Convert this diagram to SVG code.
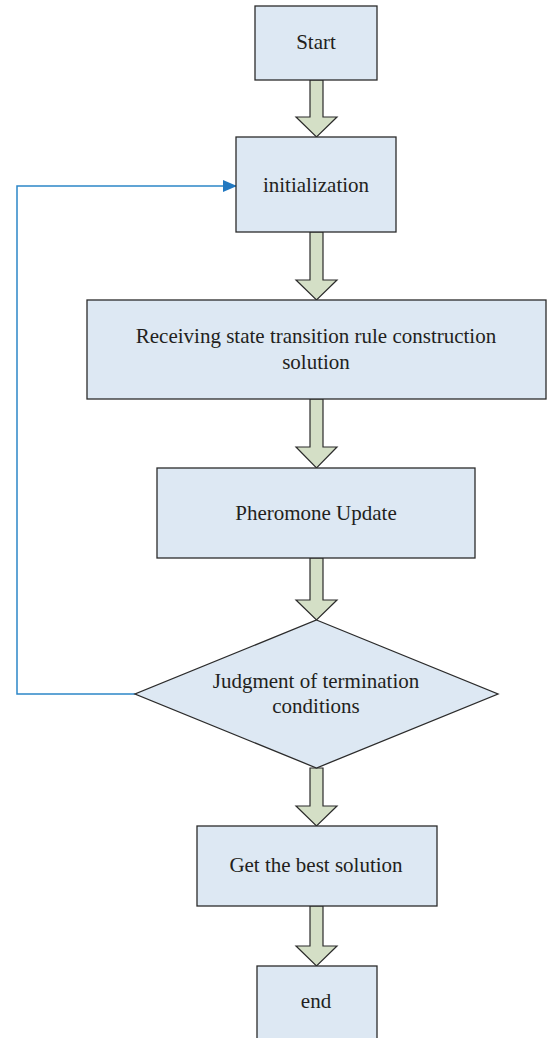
<svg xmlns="http://www.w3.org/2000/svg" width="548" height="1038" viewBox="0 0 548 1038">
<style>
.box{fill:#dde8f3;stroke:#2b2b2b;stroke-width:1.3}
.arr{fill:#d4dfc6;stroke:#2b2b2b;stroke-width:1.2;stroke-linejoin:miter}
.t{font-family:"Liberation Serif",serif;font-size:21px;fill:#231f20;text-anchor:middle}
.fb{fill:none;stroke:#2d86c8;stroke-width:1.5}
</style>
<defs>
<marker id="ah" markerWidth="14" markerHeight="12" refX="13" refY="6" orient="auto" markerUnits="userSpaceOnUse">
<path d="M0,0 L14,6 L0,12 Z" fill="#2278c0"/>
</marker>
</defs>
<rect width="548" height="1038" fill="#ffffff"/>
<g id="connectors">
<polygon class="arr" points="310,80 323,80 323,117 337,117 316.5,137 296,117 310,117"/>
<polygon class="arr" points="310,232 323,232 323,280 337,280 316.5,300 296,280 310,280"/>
<polygon class="arr" points="310,399 323,399 323,447 337,447 316.5,468 296,447 310,447"/>
<polygon class="arr" points="310,558 323,558 323,600 337,600 316.5,620 296,600 310,600"/>
<polygon class="arr" points="310,768 323,768 323,806 337,806 316.5,826 296,806 310,806"/>
<polygon class="arr" points="310,906 323,906 323,946 337,946 316.5,966 296,946 310,946"/>
<polyline class="fb" points="135,694 17,694 17,186 236,186" marker-end="url(#ah)"/>
</g>
<g id="start">
<rect class="box" x="255" y="6" width="122" height="74"/>
<text class="t" x="316" y="49">Start</text>
</g>
<g id="init">
<rect class="box" x="236" y="137" width="160" height="95"/>
<text class="t" x="316" y="192">initialization</text>
</g>
<g id="receive">
<rect class="box" x="87" y="300" width="459" height="99"/>
<text class="t" x="316" y="343">Receiving state transition rule construction</text>
<text class="t" x="316" y="369">solution</text>
</g>
<g id="pheromone">
<rect class="box" x="157" y="468" width="318" height="90"/>
<text class="t" x="316" y="520">Pheromone Update</text>
</g>
<g id="judge">
<polygon class="box" points="316.5,620 498,694 316.5,768 135,694"/>
<text class="t" x="316" y="688">Judgment of termination</text>
<text class="t" x="316" y="713">conditions</text>
</g>
<g id="best">
<rect class="box" x="197" y="826" width="240" height="80"/>
<text class="t" x="316" y="872">Get the best solution</text>
</g>
<g id="end">
<rect class="box" x="257" y="966" width="120" height="80"/>
<text class="t" x="316" y="1008">end</text>
</g>
</svg>
